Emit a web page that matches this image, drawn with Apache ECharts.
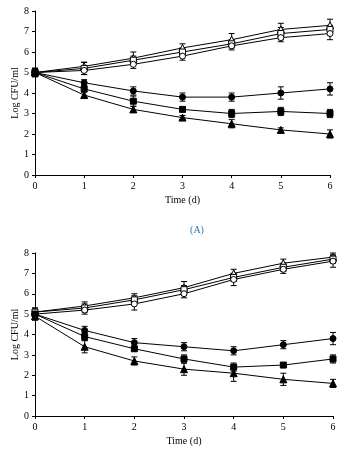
<!DOCTYPE html>
<html><head><meta charset="utf-8">
<script src="https://cdn.jsdelivr.net/npm/echarts@6/dist/echarts.min.js"></script>
<style>html,body{margin:0;padding:0;background:#fff}#c{width:356px;height:461px}</style>
</head><body><div id="c"></div>
<script>
const days = [0, 1, 2, 3, 4, 5, 6];
const yTicks = [0, 1, 2, 3, 4, 5, 6, 7, 8];

// Panel A
const a1 = [5.0, 5.3, 5.7, 6.2, 6.6, 7.1, 7.3];
const a1Err = [0.2, 0.2, 0.3, 0.2, 0.3, 0.3, 0.3];
const a2 = [5.0, 5.2, 5.6, 6.0, 6.4, 6.9, 7.1];
const a2Err = [0.2, 0.3, 0.2, 0.2, 0.2, 0.3, 0.2];
const a3 = [5.0, 5.1, 5.4, 5.8, 6.3, 6.7, 6.9];
const a3Err = [0.2, 0.2, 0.2, 0.2, 0.2, 0.2, 0.3];
const a4 = [5.0, 4.5, 4.1, 3.8, 3.8, 4.0, 4.2];
const a4Err = [0.2, 0.15, 0.2, 0.2, 0.2, 0.3, 0.3];
const a5 = [5.0, 4.2, 3.6, 3.2, 3.0, 3.1, 3.0];
const a5Err = [0.2, 0.15, 0.25, 0.1, 0.2, 0.2, 0.2];
const a6 = [5.0, 3.9, 3.2, 2.8, 2.5, 2.2, 2.0];
const a6Err = [0.2, 0.15, 0.15, 0.1, 0.2, 0.1, 0.2];

// Panel B
const b1 = [5.1, 5.4, 5.8, 6.3, 7.0, 7.5, 7.8];
const b1Err = [0.2, 0.2, 0.2, 0.3, 0.2, 0.2, 0.2];
const b2 = [5.1, 5.3, 5.7, 6.2, 6.8, 7.3, 7.7];
const b2Err = [0.2, 0.2, 0.2, 0.2, 0.2, 0.2, 0.2];
const b3 = [5.0, 5.2, 5.5, 6.0, 6.7, 7.2, 7.6];
const b3Err = [0.2, 0.2, 0.3, 0.2, 0.3, 0.2, 0.3];
const b4 = [5.0, 4.2, 3.6, 3.4, 3.2, 3.5, 3.8];
const b4Err = [0.2, 0.2, 0.2, 0.2, 0.2, 0.2, 0.3];
const b5 = [5.0, 3.9, 3.3, 2.8, 2.4, 2.5, 2.8];
const b5Err = [0.2, 0.2, 0.1, 0.2, 0.2, 0.1, 0.2];
const b6 = [4.9, 3.4, 2.7, 2.3, 2.1, 1.8, 1.6];
const b6Err = [0.2, 0.3, 0.2, 0.3, 0.4, 0.3, 0.2];

const FONT = 'Liberation Serif';

function lineSeries(vals, symbol, open, gi) {
  return {
    type: 'line', xAxisIndex: gi, yAxisIndex: gi,
    data: days.map((d, i) => [d, vals[i]]),
    symbol: symbol, symbolSize: symbol === 'triangle' ? 7 : 6,
    lineStyle: {color: '#000', width: 1},
    itemStyle: {color: open ? '#fff' : '#000', borderColor: '#000', borderWidth: 1},
    z: 3
  };
}
function errSeries(vals, errs, gi) {
  return {
    type: 'custom', xAxisIndex: gi, yAxisIndex: gi,
    data: days.map((d, i) => [d, vals[i] - errs[i], vals[i] + errs[i]]),
    renderItem: function (params, api) {
      const lo = api.coord([api.value(0), api.value(1)]);
      const hi = api.coord([api.value(0), api.value(2)]);
      const w = 3;
      const st = {stroke: '#000', lineWidth: 1};
      return {type: 'group', children: [
        {type: 'line', shape: {x1: lo[0], y1: lo[1], x2: hi[0], y2: hi[1]}, style: st},
        {type: 'line', shape: {x1: lo[0] - w, y1: lo[1], x2: lo[0] + w, y2: lo[1]}, style: st},
        {type: 'line', shape: {x1: hi[0] - w, y1: hi[1], x2: hi[0] + w, y2: hi[1]}, style: st}
      ]};
    },
    z: 2
  };
}
function xAx(gi) {
  return {
    type: 'value', gridIndex: gi, min: 0, max: 6, interval: 1,
    name: 'Time (d)', nameLocation: 'middle', nameGap: 20, nameMoveOverlap: false,
    nameTextStyle: {fontFamily: FONT, fontSize: 10, color: '#000'},
    axisLine: {show: true, lineStyle: {color: '#000', width: 1}},
    axisTick: {show: true, length: 3, lineStyle: {color: '#000'}},
    axisLabel: {fontFamily: FONT, fontSize: 10, color: '#000', margin: 6},
    splitLine: {show: false}
  };
}
function yAx(gi) {
  return {
    type: 'value', gridIndex: gi, min: yTicks[0], max: yTicks[yTicks.length - 1], interval: 1,
    name: 'Log CFU/ml', nameLocation: 'middle', nameGap: 15, nameMoveOverlap: false,
    nameTextStyle: {fontFamily: FONT, fontSize: 10, color: '#000'},
    axisLine: {show: true, lineStyle: {color: '#000', width: 1}},
    axisTick: {show: true, length: 3, lineStyle: {color: '#000'}},
    axisLabel: {fontFamily: FONT, fontSize: 10, color: '#000', margin: 6},
    splitLine: {show: false}
  };
}

const chart = echarts.init(document.getElementById('c'), null, {renderer: 'canvas'});
chart.setOption({
  animation: false,
  backgroundColor: '#fff',
  title: {text: '(A)', left: 197, top: 225, padding: 0, textAlign: 'center',
    textStyle: {fontFamily: FONT, fontSize: 10, fontWeight: 'normal', color: '#2e75b6'}},
  grid: [
    {left: 35, right: 26, top: 11, height: 164, containLabel: false, outerBoundsMode: 'none'},
    {left: 35, right: 23, top: 253, height: 163, containLabel: false, outerBoundsMode: 'none'}
  ],
  xAxis: [xAx(0), xAx(1)],
  yAxis: [yAx(0), yAx(1)],
  series: [
    errSeries(a1, a1Err, 0), errSeries(a2, a2Err, 0), errSeries(a3, a3Err, 0),
    errSeries(a4, a4Err, 0), errSeries(a5, a5Err, 0), errSeries(a6, a6Err, 0),
    lineSeries(a1, 'triangle', true, 0), lineSeries(a2, 'rect', true, 0), lineSeries(a3, 'circle', true, 0),
    lineSeries(a4, 'circle', false, 0), lineSeries(a5, 'rect', false, 0), lineSeries(a6, 'triangle', false, 0),
    errSeries(b1, b1Err, 1), errSeries(b2, b2Err, 1), errSeries(b3, b3Err, 1),
    errSeries(b4, b4Err, 1), errSeries(b5, b5Err, 1), errSeries(b6, b6Err, 1),
    lineSeries(b1, 'triangle', true, 1), lineSeries(b2, 'rect', true, 1), lineSeries(b3, 'circle', true, 1),
    lineSeries(b4, 'circle', false, 1), lineSeries(b5, 'rect', false, 1), lineSeries(b6, 'triangle', false, 1)
  ]
});
</script></body></html>
